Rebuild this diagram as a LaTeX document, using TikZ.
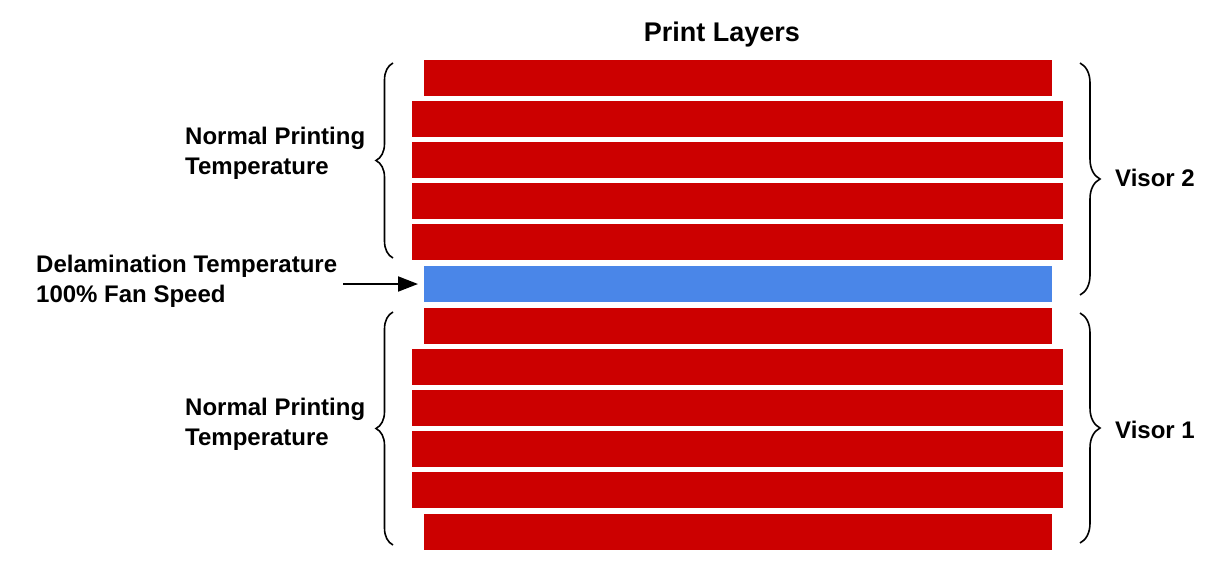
\documentclass[tikz,border=0pt]{standalone}
\usepackage{fontspec}
\setmainfont{Liberation Sans}
\usetikzlibrary{decorations.pathreplacing,arrows.meta}
\definecolor{layerred}{HTML}{CC0000}
\definecolor{layerblue}{HTML}{4A86E8}
\tikzset{
  layer/.style={fill=layerred, draw=none, minimum height=36pt, inner sep=0pt, outer sep=0pt},
  narrowlayer/.style={layer, minimum width=628pt},
  widelayer/.style={layer, minimum width=651pt},
  delamlayer/.style={narrowlayer, fill=layerblue},
  lbl/.style={font=\bfseries\fontsize{24}{30}\selectfont, align=left, inner sep=0pt, text=black},
  titlelbl/.style={font=\bfseries\fontsize{27}{32}\selectfont, inner sep=0pt},
  leftbrace/.style={draw=black, line width=1.6pt, decorate, decoration={brace, amplitude=17pt}},
  rightbrace/.style={draw=black, line width=1.6pt, decorate, decoration={brace, amplitude=20pt}},
  pointer/.style={draw=black, line width=2pt, -{Triangle[length=20pt,width=15pt]}, shorten >=6pt}
}
\begin{document}
\begin{tikzpicture}[x=1pt,y=-1pt]
\useasboundingbox (0,0) rectangle (1215,563);
% layers
\node[narrowlayer] (L1) at (738,78) {};
\node[widelayer] (L2) at (737.5,119) {};
\node[widelayer] (L3) at (737.5,160) {};
\node[widelayer] (L4) at (737.5,201) {};
\node[widelayer] (L5) at (737.5,242) {};
\node[delamlayer] (B) at (738,284) {};
\node[narrowlayer] (L6) at (738,326) {};
\node[widelayer] (L7) at (737.5,367) {};
\node[widelayer] (L8) at (737.5,408) {};
\node[widelayer] (L9) at (737.5,449) {};
\node[widelayer] (L10) at (737.5,490) {};
\node[narrowlayer] (L11) at (738,532) {};
% title
\node[titlelbl] (title) at (722,35) {Print Layers};
% labels
\node[lbl, anchor=west] (np1) at (185,153) {Normal Printing\\Temperature};
\node[lbl, anchor=west] (np2) at (185,424) {Normal Printing\\Temperature};
\node[lbl, anchor=west] (delam) at (36,281) {Delamination Temperature\\100\% Fan Speed};
\node[lbl, anchor=west] (v2) at (1115,178) {Visor 2};
\node[lbl, anchor=west] (v1) at (1115,430) {Visor 1};
% braces
\coordinate (lb1a) at (393,258);
\coordinate (lb1b) at (393,63);
\coordinate (lb2a) at (393,545);
\coordinate (lb2b) at (393,312);
\coordinate (rb2a) at (1080,63);
\coordinate (rb2b) at (1080,295);
\coordinate (rb1a) at (1080,313);
\coordinate (rb1b) at (1080,543);
\draw[leftbrace] (lb1a) -- (lb1b);
\draw[leftbrace] (lb2a) -- (lb2b);
\draw[rightbrace] (rb2a) -- (rb2b);
\draw[rightbrace] (rb1a) -- (rb1b);
% arrow
\coordinate (arrowstart) at (343,284);
\draw[pointer] (arrowstart) -- (B.west);
\end{tikzpicture}
\end{document}
